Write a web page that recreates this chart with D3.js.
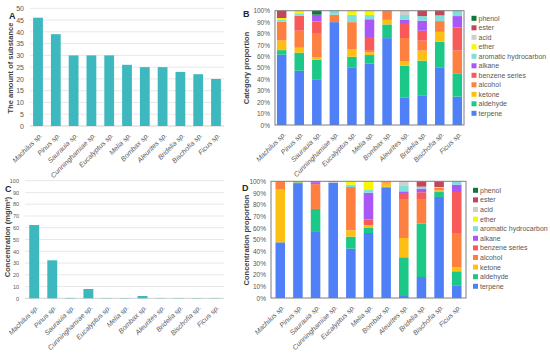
<!DOCTYPE html>
<html>
<head>
<meta charset="utf-8">
<script src="https://cdn.jsdelivr.net/npm/d3@7"></script>
<style>
  body { margin: 0; background: #fff; }
  svg { display: block; font-family: "Liberation Sans", Arial, sans-serif; }
</style>
</head>
<body>
<div id="vis"></div>
<script>
var species = ['Machilus sp.', 'Pinus sp.', 'Saurauia sp.', 'Cunninghamiae sp.', 'Eucalyptus sp.',
    'Melia sp.', 'Bombax sp.', 'Aleurites sp.', 'Bridelia sp.', 'Bischofia sp.', 'Ficus sp.'];

// panel A: number of substances per species
var substanceCount = [46, 39, 30, 30, 30, 26, 25, 25, 23, 22, 20];

// panel C: total concentration (mg/m3)
var concentration = [62.3, 32.3, 0.3, 7.9, 0.2, 0.2, 2, 0.2, 0.2, 0.2, 0.2];

// stack order, bottom to top
var categories = ['terpene', 'aldehyde', 'ketone', 'alcohol', 'benzene series', 'alkane',
    'aromatic hydrocarbon', 'ether', 'acid', 'ester', 'phenol'];
var legendB = ['phenol', 'ester', 'acid', 'ether', 'aromatic hydrocarbon', 'alkane',
    'benzene series', 'alcohol', 'ketone', 'aldehyde', 'terpene'];
var legendD = ['phenol', 'ester', 'acid', 'ether', 'aromatic hydrocarbon', 'alkane',
    'benzene series', 'alcohol', ' ketone', 'aldehyde', 'terpene'];
var categoryColors = ['#4f80f7', '#1cc887', '#fdc012', '#fd8040', '#f85a5a', '#a957f7',
    '#80dedb', '#f7f700', '#cfcfcf', '#c2475b', '#0f7a35'];

// panel B: category share of substance count (%), one row per species, in categories order
var shareB = [
    [61.5, 4, 8.5, 16.4, 0, 0, 2, 1.2, 0, 6.4, 0],
    [47.5, 15.8, 4.3, 14.9, 13.1, 0, 2.1, 2.3, 0, 0, 0],
    [40, 17, 2.5, 21, 10, 6, 0, 0, 0, 0, 3.5],
    [90, 0, 0, 6.5, 0, 0, 3.5, 0, 0, 0, 0],
    [50, 9.7, 6.7, 23.6, 0, 0, 6.4, 3.6, 0, 0, 0],
    [53.6, 7.6, 2.4, 2, 11.4, 15.5, 3.7, 3.8, 0, 0, 0],
    [76, 12, 4, 8, 0, 0, 0, 0, 0, 0, 0],
    [24.2, 27.7, 4.1, 20.1, 12.3, 3.8, 4, 0, 3.8, 0, 0],
    [26, 30.3, 8.8, 8.7, 8.7, 8.7, 4.1, 0, 0, 4.7, 0],
    [50, 22.8, 8.7, 9.4, 0, 0, 5, 0, 0, 4.1, 0],
    [24.8, 20.4, 0, 19.9, 20.1, 10.1, 4.7, 0, 0, 0, 0]
];

// panel D: category share of concentration (%)
var shareD = [
    [47.7, 0, 45.2, 7.1, 0, 0, 0, 0, 0, 0, 0],
    [97.7, 1.4, 0.9, 0, 0, 0, 0, 0, 0, 0, 0],
    [56.6, 19.7, 0, 20.8, 1.5, 0.7, 0, 0, 0, 0.7, 0],
    [98.8, 0, 0, 0, 0, 0, 0, 0, 0.6, 0.6, 0],
    [42.3, 10.3, 5.4, 37.1, 0, 0, 2, 2.9, 0, 0, 0],
    [55.7, 4.3, 2.6, 0, 4.8, 22.8, 2.3, 7.5, 0, 0, 0],
    [94.8, 0.5, 3.5, 1.2, 0, 0, 0, 0, 0, 0, 0],
    [1.7, 33.2, 16.5, 33.4, 5.2, 1.4, 5.2, 0, 3.4, 0, 0],
    [18, 45.7, 0, 21.1, 5.8, 3.1, 1.7, 0, 0, 4.6, 0],
    [86.6, 4.2, 1.5, 2, 0, 0, 0, 0, 0.8, 4.9, 0],
    [10.9, 12, 3.4, 29.4, 35.1, 6.3, 2.9, 0, 0, 0, 0]
];

var barColor = '#3db8bf';
var textColor = '#595959';

var svg = d3.select('#vis').append('svg')
    .attr('width', 550)
    .attr('height', 355);

function xLabels(g, x, y0) {
    g.selectAll('.xlab')
        .data(species)
        .enter().append('text')
        .attr('class', 'xlab')
        .attr('transform', function (d) {
            return 'translate(' + (x(d) + x.bandwidth() / 2 + 3) + ',' + (y0 + 8) + ') rotate(-45)';
        })
        .attr('text-anchor', 'end')
        .attr('dy', '0.35em')
        .style('font-size', '7px')
        .style('font-style', 'italic')
        .style('fill', textColor)
        .text(function (d) { return d; });
}

function panelLetter(x, y, letter) {
    svg.append('text')
        .attr('x', x)
        .attr('y', y)
        .style('font-size', '9px')
        .style('font-weight', 'bold')
        .style('fill', '#262626')
        .text(letter);
}

function yTitle(x, y, label) {
    svg.append('text')
        .attr('transform', 'translate(' + x + ',' + y + ') rotate(-90)')
        .attr('text-anchor', 'middle')
        .style('font-size', '7.5px')
        .style('font-weight', 'bold')
        .style('fill', '#404040')
        .text(label);
}

function barPanel(values, xr, top, bottom, maxVal, outer, tickFont) {
    var x = d3.scaleBand().domain(species).range(xr).paddingInner(0.45).paddingOuter(outer);
    var y = d3.scaleLinear().domain([0, maxVal]).range([bottom, top]);
    var g = svg.append('g');

    g.selectAll('.grid')
        .data(y.ticks(10))
        .enter().append('line')
        .attr('x1', xr[0])
        .attr('x2', xr[1])
        .attr('y1', function (d) { return y(d); })
        .attr('y2', function (d) { return y(d); })
        .attr('stroke', function (d) { return d === 0 ? '#d0d0d0' : '#e8e8e8'; })
        .attr('stroke-width', 1);

    var axis = g.append('g')
        .attr('transform', 'translate(' + (xr[0] - 3) + ',0)')
        .call(d3.axisLeft(y).ticks(10).tickSize(0).tickPadding(3));
    axis.select('.domain').remove();
    axis.selectAll('text').style('font-size', tickFont).style('fill', textColor)
        .style('font-family', '"Liberation Sans", Arial, sans-serif');

    g.selectAll('.bar')
        .data(values)
        .enter().append('rect')
        .attr('x', function (d, i) { return x(species[i]); })
        .attr('width', x.bandwidth())
        .attr('y', function (d) { return y(d); })
        .attr('height', function (d) { return bottom - y(d); })
        .attr('fill', barColor);

    xLabels(g, x, bottom);
}

function stackPanel(rows, xr, top, bottom, outer, legend, legX, legY, legStep) {
    var x = d3.scaleBand().domain(species).range(xr).paddingInner(0.46).paddingOuter(outer);
    var y = d3.scaleLinear().domain([0, 1]).range([bottom, top]);
    var g = svg.append('g');

    var series = d3.stack()
        .keys(d3.range(categories.length))
        .value(function (row, k) { return row[k]; })
        .offset(d3.stackOffsetExpand)(rows);

    g.selectAll('.layer')
        .data(series)
        .enter().append('g')
        .attr('fill', function (d) { return categoryColors[d.key]; })
        .selectAll('rect')
        .data(function (d) { return d; })
        .enter().append('rect')
        .attr('x', function (d, i) { return x(species[i]); })
        .attr('width', x.bandwidth())
        .attr('y', function (d) { return y(d[1]); })
        .attr('height', function (d) { return y(d[0]) - y(d[1]); });

    g.append('rect')
        .attr('x', xr[0])
        .attr('y', top)
        .attr('width', xr[1] - xr[0])
        .attr('height', bottom - top)
        .attr('fill', 'none')
        .attr('stroke', '#7f7f7f')
        .attr('stroke-width', 1);

    var axis = g.append('g')
        .attr('transform', 'translate(' + (xr[0] - 3) + ',0)')
        .call(d3.axisLeft(y).ticks(10, '.0%').tickSize(0).tickPadding(2));
    axis.select('.domain').remove();
    axis.selectAll('text').style('font-size', '6.5px').style('fill', textColor)
        .style('font-family', '"Liberation Sans", Arial, sans-serif');

    xLabels(g, x, bottom);

    var leg = svg.append('g').selectAll('.leg')
        .data(legend)
        .enter().append('g')
        .attr('transform', function (d, i) {
            return 'translate(' + legX + ',' + (legY + i * legStep) + ')';
        });
    leg.append('rect')
        .attr('x', 0)
        .attr('y', -2.5)
        .attr('width', 5)
        .attr('height', 5)
        .attr('fill', function (d) { return categoryColors[categories.indexOf(d.trim())]; });
    leg.append('text')
        .attr('x', 7)
        .attr('dy', '0.35em')
        .style('font-size', '7px')
        .style('fill', textColor)
        .text(function (d) { return d; });
}

// A
barPanel(substanceCount, [30, 224], 8.3, 126, 50, 0.175, '7px');
panelLetter(9, 19, 'A');
yTitle(13, 68, 'The amount of substance');

// B
stackPanel(shareB, [275, 464], 10.7, 125, 0.11, legendB, 471.5, 18.3, 9.5);
panelLetter(243, 17, 'B');
yTitle(249, 68, 'Category proportion');

// C
barPanel(concentration, [25, 224], 180.7, 298.3, 100, 0.235, '5.5px');
panelLetter(5, 192, 'C');
yTitle(10, 237, 'Concentration (mg/m\u00b3)');

// D
stackPanel(shareD, [271, 466], 181.3, 298, 0.255, legendD, 473, 190.3, 9.6);
panelLetter(242, 191, 'D');
yTitle(249, 240, 'Concentration proportion');
</script>
</body>
</html>
